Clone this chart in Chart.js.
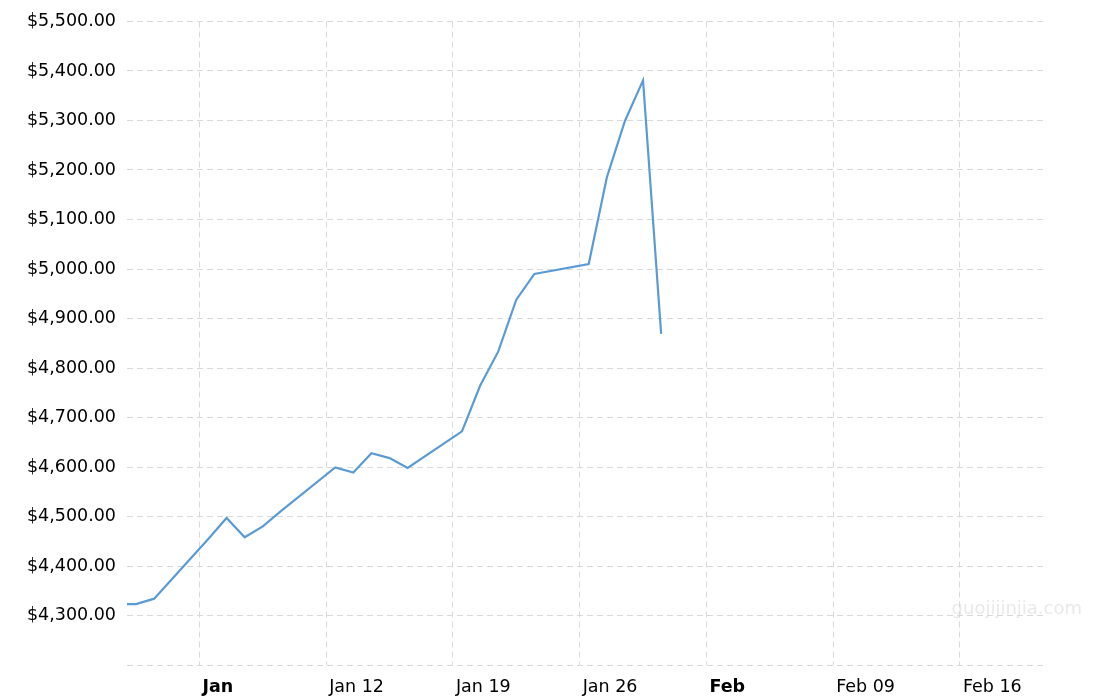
<!DOCTYPE html>
<html>
<head>
<meta charset="utf-8">
<script src="https://cdn.jsdelivr.net/npm/chart.js@4.4.1/dist/chart.umd.min.js"></script>
<style>
  html, body { margin: 0; padding: 0; background: #fff; }
  canvas { display: block; }
</style>
</head>
<body>
<canvas id="chart" width="1110" height="700"></canvas>
<script>
// trading days and closing prices
const dates = [
  '2025-12-31', '2026-01-01', '2026-01-02', '2026-01-05', '2026-01-06', '2026-01-07',
  '2026-01-08', '2026-01-09', '2026-01-12', '2026-01-13', '2026-01-14', '2026-01-15',
  '2026-01-16', '2026-01-19', '2026-01-20', '2026-01-21', '2026-01-22', '2026-01-23',
  '2026-01-26', '2026-01-27', '2026-01-28', '2026-01-29', '2026-01-30'
];
const prices = [
  4323, 4323, 4334, 4455, 4497, 4458,
  4480, 4511, 4599, 4589, 4628, 4618,
  4598, 4672, 4764, 4833, 4938, 4990,
  5010, 5185, 5299, 5381, 4869
];

// x axis weekly ticks
const tickDates = ['2026-01-05', '2026-01-12', '2026-01-19', '2026-01-26', '2026-02-02', '2026-02-09', '2026-02-16'];
const tickLabels = ['Jan', 'Jan 12', 'Jan 19', 'Jan 26', 'Feb', 'Feb 09', 'Feb 16'];
const boldLabels = ['Jan', 'Feb'];

const start = Date.UTC(2026, 0, 1);
const dayOf = (s) => (Date.parse(s + 'T00:00:00Z') - start) / 86400000;

const points = dates.map((d, i) => ({ x: dayOf(d) + 0.5, y: prices[i] }));

const money = (v) => '$' + v.toLocaleString('en-US', { minimumFractionDigits: 2, maximumFractionDigits: 2 });

const watermark = {
  id: 'watermark',
  afterDraw(chart) {
    const ctx = chart.ctx;
    ctx.save();
    ctx.font = '18px "DejaVu Sans"';
    ctx.fillStyle = 'rgba(215,215,215,0.55)';
    ctx.textAlign = 'right';
    ctx.textBaseline = 'alphabetic';
    ctx.fillText('guojijinjia.com', 1082, 614);
    ctx.restore();
  }
};

Chart.defaults.font.family = '"DejaVu Sans", Verdana, sans-serif';
Chart.defaults.font.size = 17.5;
Chart.defaults.color = '#000';

new Chart(document.getElementById('chart'), {
  type: 'line',
  data: {
    datasets: [{
      data: points,
      borderColor: '#5b9bd5',
      borderWidth: 2.2,
      pointRadius: 0,
      tension: 0,
      clip: 0,
    }],
  },
  options: {
    responsive: false,
    animation: false,
    layout: { padding: { top: 21, right: 65, bottom: 0, left: 0 } },
    plugins: { legend: { display: false }, tooltip: { enabled: false } },
    scales: {
      x: {
        type: 'linear',
        min: 0,
        max: 50.7,
        afterBuildTicks: (scale) => {
          scale.ticks = tickDates.map((d) => ({ value: dayOf(d) }));
        },
        afterFit: (scale) => { scale.height = 35; },
        grid: { color: '#d9d9d9', lineWidth: 1, drawTicks: false },
        border: { display: false, dash: [6, 4] },
        ticks: {
          align: 'start',
          labelOffset: 3,
          padding: 12,
          maxRotation: 0,
          autoSkip: false,
          callback: (v, i) => tickLabels[i],
          font: (ctx) => ({ weight: boldLabels.includes(tickLabels[ctx.index]) ? 'bold' : 'normal' }),
        },
      },
      y: {
        min: 4200,
        max: 5500,
        afterFit: (scale) => { scale.width = 127; },
        grid: { color: '#d9d9d9', lineWidth: 1, drawTicks: false },
        border: { display: false, dash: [6, 4] },
        ticks: {
          stepSize: 100,
          padding: 11,
          callback: (v) => (v === 4200 ? '' : money(v)),
        },
      },
    },
  },
  plugins: [watermark],
});
</script>
</body>
</html>
